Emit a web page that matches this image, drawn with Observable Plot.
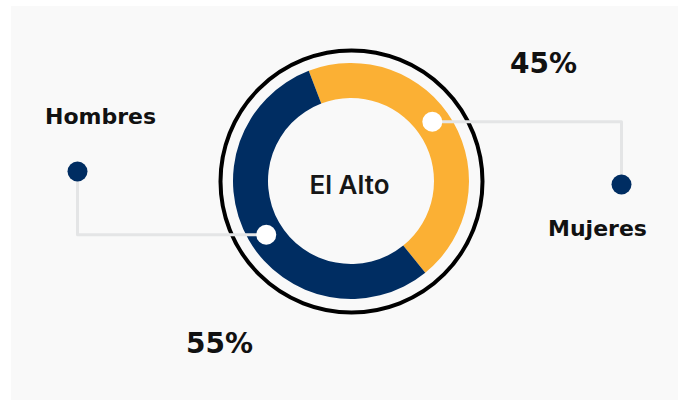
<!DOCTYPE html>
<html><head><meta charset="utf-8">
<script src="https://cdn.jsdelivr.net/npm/d3@7"></script>
<script src="https://cdn.jsdelivr.net/npm/@observablehq/plot@0.6"></script>
<style>
html,body{margin:0;padding:0;background:#fff;}
#chart{position:absolute;left:11px;top:6px;}
#chart svg{background:#f9f9f9;display:block;}
</style></head><body><div id="chart"></div>
<script>
const categories = ["Mujeres", "Hombres"];
const percentages = [45, 55];
const sliceColors = ["#fbb034", "#002d62"];
const centerTitle = "El Alto";

// layout (pixel frame of the 678x400 picture)
const padLeft = 11, padTop = 6, W = 678, H = 400;
const cx = 351, cy = 181, rInner = 83, rOuter = 118, rRing = 131;
const startDeg = -21;
const layout = {
  Mujeres: {anchorFrac: 0.46, dotX: 621, dotY: 184, labelX: 597, labelY: 228, pctX: 543, pctY: 64},
  Hombres: {anchorFrac: 0.49, dotX: 77, dotY: 171, labelX: 100, labelY: 116, pctX: 219, pctY: 344}
};

const pie = d3.pie().sort(null)
  .startAngle(startDeg * Math.PI / 180)
  .endAngle((360 + startDeg) * Math.PI / 180);
const arcs = pie(percentages);
const arcGen = d3.arc().innerRadius(rInner).outerRadius(rOuter);
const rMid = (rInner + rOuter) / 2;
const slices = categories.map((c, i) => {
  const a = arcs[i], L = layout[c];
  const ang = a.startAngle + L.anchorFrac * (a.endAngle - a.startAngle);
  return {category: c, value: percentages[i], color: sliceColors[i], arc: a,
          px: cx + rMid * Math.sin(ang), py: cy - rMid * Math.cos(ang), ...L};
});
const leaders = slices.flatMap(s => [
  {category: s.category, x: s.px, y: s.py},
  {category: s.category, x: s.dotX, y: s.py},
  {category: s.category, x: s.dotX, y: s.dotY}
]);

function donut(index, scales) {
  const sx = scales && scales.x ? scales.x : (v => v - padLeft);
  const sy = scales && scales.y ? scales.y : (v => v - padTop);
  const g = d3.create("svg:g").attr("transform", `translate(${sx(cx)},${sy(cy)})`);
  g.selectAll("path").data(slices).join("path")
    .attr("d", s => arcGen(s.arc))
    .attr("fill", s => s.color);
  return g.node();
}

const chart = Plot.plot({
  width: W - padLeft, height: H - padTop, margin: 0,
  x: {domain: [padLeft, W], range: [0, W - padLeft], axis: null},
  y: {domain: [padTop, H], range: [0, H - padTop], axis: null},
  style: {fontFamily: "DejaVu Sans", background: "#f9f9f9", color: "#111"},
  marks: [
    Plot.dot([{x: cx, y: cy}], {x: "x", y: "y", r: rRing, stroke: "#000", strokeWidth: 4, fill: "none"}),
    donut,
    Plot.line(leaders, {x: "x", y: "y", z: "category", stroke: "#e4e5e6", strokeWidth: 3}),
    Plot.dot(slices, {x: "px", y: "py", r: 10, fill: "#fff"}),
    Plot.dot(slices, {x: "dotX", y: "dotY", r: 10, fill: "#002d62"}),
    Plot.text(slices, {x: "labelX", y: "labelY", text: "category", fontSize: 22, fontWeight: "bold", fill: "#111"}),
    Plot.text(slices, {x: "pctX", y: "pctY", text: d => d.value + "%", fontSize: 28, fontWeight: "bold", fill: "#111"}),
    Plot.text([centerTitle], {x: () => cx - 2, y: () => cy + 4, text: d => d, fontSize: 26, fontWeight: 600, fontFamily: "Inter", fill: "#161616"})
  ]
});
document.getElementById("chart").appendChild(chart);
</script></body></html>
